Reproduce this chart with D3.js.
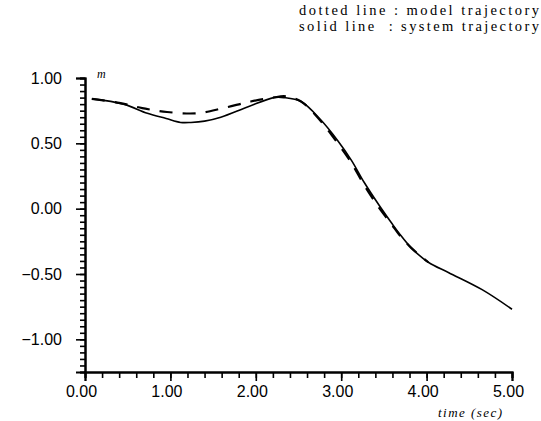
<html>
  <head>
    <meta charset="utf-8">
    <title>model vs system trajectory</title>
    <script type="text/javascript" src="https://cdn.jsdelivr.net/npm/d3@7/dist/d3.min.js"></script>
    <style>
      body { margin: 0; background: #fff; }
    </style>
  </head>
  <body>
    <svg></svg>
    <script>
      'use strict';

      // values (time in sec, position in m)
      let systemTime = [0.08, 0.45, 0.73, 0.95, 1.12, 1.24, 1.40, 1.59, 1.91, 2.21, 2.33,
        2.53, 2.76, 2.96, 3.12, 3.27, 3.44, 3.59, 3.68, 3.82, 4.02, 4.26, 4.65, 5.00];
      let systemPos = [0.84, 0.80, 0.73, 0.69, 0.66, 0.66, 0.67, 0.70, 0.78, 0.85, 0.85,
        0.82, 0.68, 0.52, 0.37, 0.20, 0.03, -0.11, -0.19, -0.30, -0.41, -0.49, -0.62, -0.77];
      let modelTime = [0.08, 0.40, 0.67, 0.96, 1.31, 1.62, 1.94, 2.20, 2.35, 2.53, 2.76,
        2.96, 3.12, 3.27, 3.44, 3.59, 3.68, 3.82, 4.02];
      let modelPos = [0.84, 0.81, 0.77, 0.74, 0.73, 0.77, 0.82, 0.85, 0.86, 0.82, 0.67,
        0.50, 0.35, 0.18, 0.01, -0.12, -0.20, -0.30, -0.41];
      let xTicks = [0, 1, 2, 3, 4, 5];
      let yTicks = [1, 0.5, 0, -0.5, -1];

      let w = 541;
      let h = 421;

      let svg = d3.select('svg')
        .attr('width', w)
        .attr('height', h);

      let x = d3.scaleLinear().domain([0, 5]).range([85, 512]);
      let y = d3.scaleLinear().domain([-1.25, 1]).range([372, 78]);

      let fmt = function (d) { return d3.format('.2f')(d).replace('-', '\u2212'); };

      // y axis: ticks pointing out to the left
      let yAxis = svg.append('g').attr('transform', 'translate(' + x(0) + ',0)');
      yAxis.call(d3.axisLeft(y).tickValues(d3.range(-1.25, 1.0001, 0.05)).tickSize(5).tickFormat(''));
      yAxis.append('g').call(d3.axisLeft(y).tickValues(yTicks).tickSize(9).tickFormat(fmt).tickPadding(14));

      // x axis: ticks hanging below
      let xAxis = svg.append('g').attr('transform', 'translate(0,' + y(-1.25) + ')');
      xAxis.call(d3.axisBottom(x).tickValues(d3.range(0, 5.0001, 0.2)).tickSize(6).tickFormat(''));
      xAxis.append('g').call(d3.axisBottom(x).tickValues(xTicks).tickSize(9).tickFormat(fmt).tickPadding(5));

      svg.selectAll('.domain').attr('stroke-width', 2);
      svg.selectAll('.tick line').attr('stroke-width', 1.6);
      svg.selectAll('.tick text')
        .attr('font-family', 'Liberation Sans, Arial, sans-serif')
        .attr('font-size', 16)
        .attr('fill', '#000');
      xAxis.selectAll('.tick text').attr('dx', -4);

      let line = d3.line()
        .x(function (d) { return x(d[0]); })
        .y(function (d) { return y(d[1]); })
        .curve(d3.curveCatmullRom.alpha(0.5));

      svg.append('path')
        .datum(d3.zip(systemTime, systemPos))
        .attr('d', line)
        .attr('fill', 'none')
        .attr('stroke', '#000')
        .attr('stroke-width', 1.6);

      svg.append('path')
        .datum(d3.zip(modelTime, modelPos))
        .attr('d', line)
        .attr('fill', 'none')
        .attr('stroke', '#000')
        .attr('stroke-width', 2.2)
        .attr('stroke-dasharray', '13,10');

      // axis names
      svg.append('text')
        .attr('x', 97).attr('y', 78)
        .attr('font-family', 'Liberation Serif, Times New Roman, serif')
        .attr('font-style', 'italic')
        .attr('font-size', 12)
        .text('m');

      svg.append('text')
        .attr('x', 438).attr('y', 417)
        .attr('textLength', 64)
        .attr('lengthAdjust', 'spacing')
        .attr('font-family', 'Liberation Serif, Times New Roman, serif')
        .attr('font-style', 'italic')
        .attr('font-size', 13)
        .text('time (sec)');

      // legend text, top right
      let legend = ['dotted line : model trajectory', 'solid line\u00a0\u00a0: system trajectory'];
      svg.selectAll('.legend')
        .data(legend)
        .enter()
        .append('text')
        .attr('class', 'legend')
        .attr('x', 299)
        .attr('y', function (d, i) { return 15 + i * 16; })
        .attr('textLength', 240)
        .attr('lengthAdjust', 'spacing')
        .attr('font-family', 'Liberation Serif, Times New Roman, serif')
        .attr('font-size', 14.5)
        .text(function (d) { return d; });
    </script>
  </body>
</html>
